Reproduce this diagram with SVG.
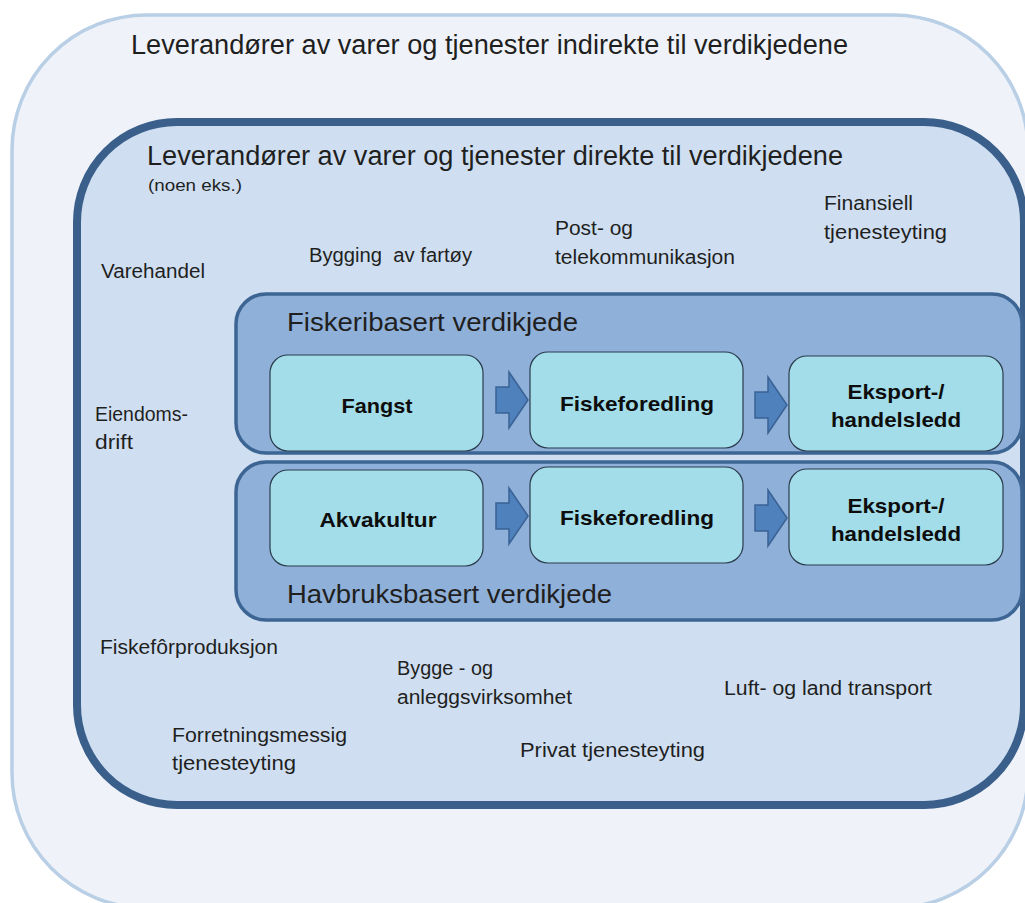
<svg xmlns="http://www.w3.org/2000/svg" width="1025" height="903" viewBox="0 0 1025 903">
  <style>
    .lbl { font-family: "Liberation Sans", Arial, sans-serif; fill: #1f1f1f; }
    .big { font-size: 27px; }
    .mid { font-size: 26px; }
    .sm { font-size: 20px; }
    .xs { font-size: 16px; }
    .bold { font-family: "Liberation Sans", Arial, sans-serif; font-weight: bold; font-size: 21px; fill: #0d0d0d; text-anchor: middle; }
    .chain { fill: #8fb0d8; stroke: #3d6594; stroke-width: 3.5; }
    .step { fill: #a3dde9; stroke: #2a3b4c; stroke-width: 1.2; }
    .arrow { fill: #4f81bd; stroke: #3a6294; stroke-width: 1.5; stroke-linejoin: miter; }
  </style>
  <defs>
    <polygon id="blockArrow" points="0,-13 13,-13 13,-28 32,0 13,28 13,13 0,13"/>
  </defs>
  <rect width="1025" height="903" fill="#ffffff"/>

  <g id="outer">
    <rect x="12" y="15" width="1016" height="893" rx="135" ry="135" fill="#eff3f9" stroke="#b9cfe6" stroke-width="3.5"/>
    <text class="lbl big" x="131" y="54" textLength="717" lengthAdjust="spacingAndGlyphs">Leverandører av varer og tjenester indirekte til verdikjedene</text>
  </g>

  <g id="inner">
    <rect x="77" y="122" width="947" height="683" rx="100" ry="100" fill="#cfdff1" stroke="#3a5f8b" stroke-width="8"/>
    <text class="lbl big" x="147" y="165" textLength="696" lengthAdjust="spacingAndGlyphs">Leverandører av varer og tjenester direkte til verdikjedene</text>
    <text class="lbl xs" x="148" y="191" textLength="94" lengthAdjust="spacingAndGlyphs">(noen eks.)</text>
  </g>

  <g id="varehandel"><text class="lbl sm" x="101" y="278" textLength="104" lengthAdjust="spacingAndGlyphs">Varehandel</text></g>
  <g id="bygging-fartoy"><text class="lbl sm" x="309" y="262" textLength="163" lengthAdjust="spacingAndGlyphs" xml:space="preserve">Bygging  av fartøy</text></g>
  <g id="post-tele">
    <text class="lbl sm" x="555" y="235" textLength="78" lengthAdjust="spacingAndGlyphs">Post- og</text>
    <text class="lbl sm" x="555" y="264" textLength="180" lengthAdjust="spacingAndGlyphs">telekommunikasjon</text>
  </g>
  <g id="finansiell">
    <text class="lbl sm" x="824" y="210" textLength="89" lengthAdjust="spacingAndGlyphs">Finansiell</text>
    <text class="lbl sm" x="824" y="239" textLength="123" lengthAdjust="spacingAndGlyphs">tjenesteyting</text>
  </g>
  <g id="eiendomsdrift">
    <text class="lbl sm" x="95" y="421" textLength="93" lengthAdjust="spacingAndGlyphs">Eiendoms-</text>
    <text class="lbl sm" x="95" y="449" textLength="38" lengthAdjust="spacingAndGlyphs">drift</text>
  </g>
  <g id="fiskeforproduksjon"><text class="lbl sm" x="100" y="654" textLength="178" lengthAdjust="spacingAndGlyphs">Fiskefôrproduksjon</text></g>
  <g id="bygge-anlegg">
    <text class="lbl sm" x="397" y="675" textLength="96" lengthAdjust="spacingAndGlyphs" xml:space="preserve">Bygge - og</text>
    <text class="lbl sm" x="397" y="704" textLength="175" lengthAdjust="spacingAndGlyphs">anleggsvirksomhet</text>
  </g>
  <g id="luft-land"><text class="lbl sm" x="724" y="695" textLength="208" lengthAdjust="spacingAndGlyphs">Luft- og land transport</text></g>
  <g id="forretningsmessig">
    <text class="lbl sm" x="172" y="742" textLength="175" lengthAdjust="spacingAndGlyphs">Forretningsmessig</text>
    <text class="lbl sm" x="172" y="770" textLength="124" lengthAdjust="spacingAndGlyphs">tjenesteyting</text>
  </g>
  <g id="privat"><text class="lbl sm" x="520" y="757" textLength="185" lengthAdjust="spacingAndGlyphs">Privat tjenesteyting</text></g>

  <g id="fiskeri-chain">
    <rect class="chain" x="236" y="294" width="786" height="159" rx="30" ry="30"/>
    <text class="lbl mid" x="287" y="331" textLength="291" lengthAdjust="spacingAndGlyphs">Fiskeribasert verdikjede</text>
  </g>
  <g id="havbruk-chain">
    <rect class="chain" x="236" y="462" width="786" height="158" rx="30" ry="30"/>
    <text class="lbl mid" x="287" y="603" textLength="325" lengthAdjust="spacingAndGlyphs">Havbruksbasert verdikjede</text>
  </g>

  <g id="fangst">
    <rect class="step" x="270" y="355" width="213" height="96" rx="18" ry="18"/>
    <text class="bold" x="377" y="413" textLength="71" lengthAdjust="spacingAndGlyphs">Fangst</text>
  </g>
  <g id="fiskeforedling-1">
    <rect class="step" x="530" y="352" width="213" height="96" rx="18" ry="18"/>
    <text class="bold" x="637" y="411" textLength="154" lengthAdjust="spacingAndGlyphs">Fiskeforedling</text>
  </g>
  <g id="eksport-1">
    <rect class="step" x="789" y="356" width="214" height="95" rx="18" ry="18"/>
    <text class="bold" x="896" y="399" textLength="97" lengthAdjust="spacingAndGlyphs">Eksport-/</text>
    <text class="bold" x="896" y="427" textLength="130" lengthAdjust="spacingAndGlyphs">handelsledd</text>
  </g>
  <g id="akvakultur">
    <rect class="step" x="270" y="470" width="213" height="96" rx="18" ry="18"/>
    <text class="bold" x="378" y="527" textLength="117" lengthAdjust="spacingAndGlyphs">Akvakultur</text>
  </g>
  <g id="fiskeforedling-2">
    <rect class="step" x="530" y="467" width="213" height="96" rx="18" ry="18"/>
    <text class="bold" x="637" y="525" textLength="154" lengthAdjust="spacingAndGlyphs">Fiskeforedling</text>
  </g>
  <g id="eksport-2">
    <rect class="step" x="789" y="469" width="214" height="96" rx="18" ry="18"/>
    <text class="bold" x="896" y="513" textLength="97" lengthAdjust="spacingAndGlyphs">Eksport-/</text>
    <text class="bold" x="896" y="541" textLength="130" lengthAdjust="spacingAndGlyphs">handelsledd</text>
  </g>

  <g id="connectors">
    <use href="#blockArrow" class="arrow" x="496" y="400"/>
    <use href="#blockArrow" class="arrow" x="755" y="405"/>
    <use href="#blockArrow" class="arrow" x="496" y="516"/>
    <use href="#blockArrow" class="arrow" x="755" y="518"/>
  </g>
</svg>
